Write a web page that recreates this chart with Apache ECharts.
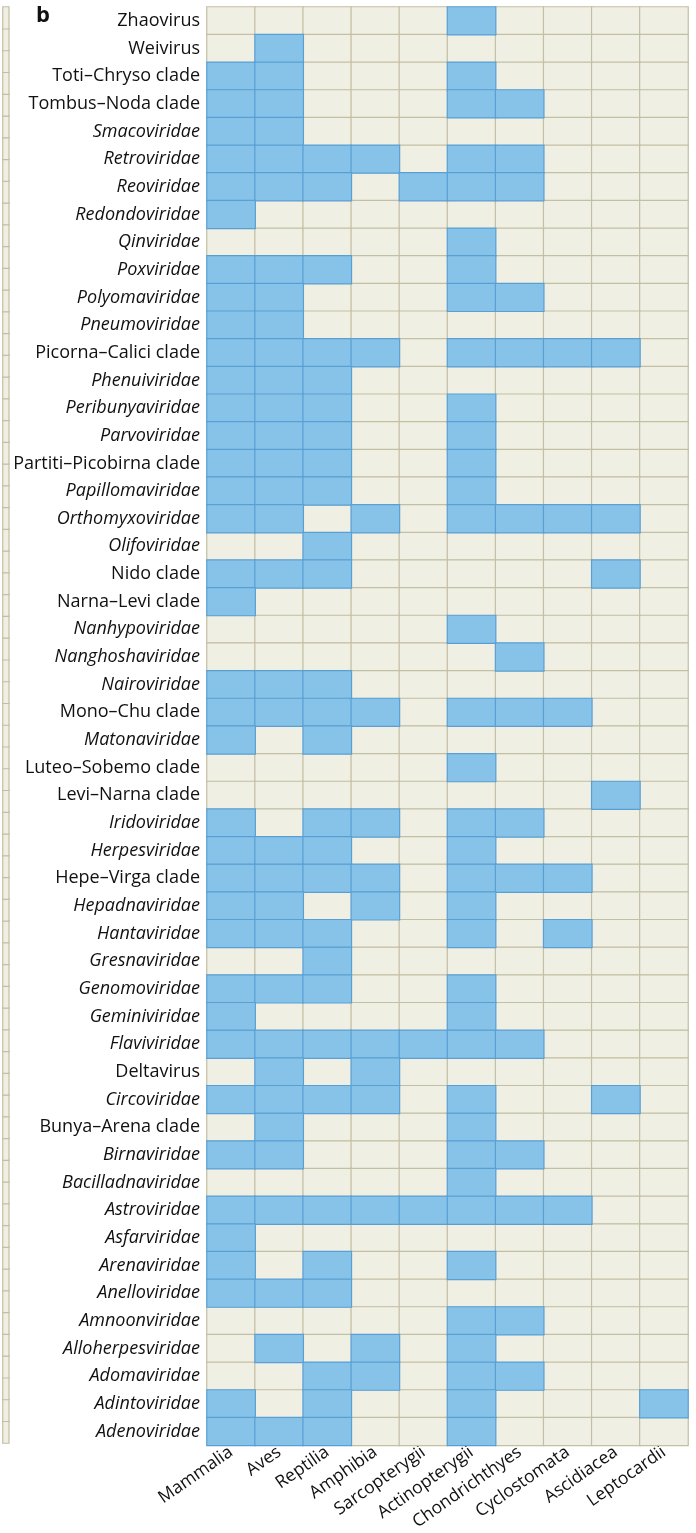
<!DOCTYPE html>
<html>
<head>
<meta charset="utf-8">
<script src="https://cdn.jsdelivr.net/npm/echarts@6/dist/echarts.min.js"></script>
<style>
  html, body { margin: 0; padding: 0; background: #fff; }
  #chart { width: 696px; height: 1533px; }
</style>
</head>
<body>
<div id="chart"></div>
<script>
const hosts = ['Mammalia', 'Aves', 'Reptilia', 'Amphibia', 'Sarcopterygii', 'Actinopterygii',
  'Chondrichthyes', 'Cyclostomata', 'Ascidiacea', 'Leptocardii']

const viruses = ['Zhaovirus', 'Weivirus', 'Toti–Chryso clade', 'Tombus–Noda clade', 'Smacoviridae',
  'Retroviridae', 'Reoviridae', 'Redondoviridae', 'Qinviridae', 'Poxviridae', 'Polyomaviridae',
  'Pneumoviridae', 'Picorna–Calici clade', 'Phenuiviridae', 'Peribunyaviridae', 'Parvoviridae',
  'Partiti–Picobirna clade', 'Papillomaviridae', 'Orthomyxoviridae', 'Olifoviridae', 'Nido clade',
  'Narna–Levi clade', 'Nanhypoviridae', 'Nanghoshaviridae', 'Nairoviridae', 'Mono–Chu clade',
  'Matonaviridae', 'Luteo–Sobemo clade', 'Levi–Narna clade', 'Iridoviridae', 'Herpesviridae',
  'Hepe–Virga clade', 'Hepadnaviridae', 'Hantaviridae', 'Gresnaviridae', 'Genomoviridae',
  'Geminiviridae', 'Flaviviridae', 'Deltavirus', 'Circoviridae', 'Bunya–Arena clade',
  'Birnaviridae', 'Bacilladnaviridae', 'Astroviridae', 'Asfarviridae', 'Arenaviridae',
  'Anelloviridae', 'Amnoonviridae', 'Alloherpesviridae', 'Adomaviridae', 'Adintoviridae',
  'Adenoviridae']

// presence (1) / absence (0), one row per virus, columns in the order of hosts
const presence = [
  [0, 0, 0, 0, 0, 1, 0, 0, 0, 0],
  [0, 1, 0, 0, 0, 0, 0, 0, 0, 0],
  [1, 1, 0, 0, 0, 1, 0, 0, 0, 0],
  [1, 1, 0, 0, 0, 1, 1, 0, 0, 0],
  [1, 1, 0, 0, 0, 0, 0, 0, 0, 0],
  [1, 1, 1, 1, 0, 1, 1, 0, 0, 0],
  [1, 1, 1, 0, 1, 1, 1, 0, 0, 0],
  [1, 0, 0, 0, 0, 0, 0, 0, 0, 0],
  [0, 0, 0, 0, 0, 1, 0, 0, 0, 0],
  [1, 1, 1, 0, 0, 1, 0, 0, 0, 0],
  [1, 1, 0, 0, 0, 1, 1, 0, 0, 0],
  [1, 1, 0, 0, 0, 0, 0, 0, 0, 0],
  [1, 1, 1, 1, 0, 1, 1, 1, 1, 0],
  [1, 1, 1, 0, 0, 0, 0, 0, 0, 0],
  [1, 1, 1, 0, 0, 1, 0, 0, 0, 0],
  [1, 1, 1, 0, 0, 1, 0, 0, 0, 0],
  [1, 1, 1, 0, 0, 1, 0, 0, 0, 0],
  [1, 1, 1, 0, 0, 1, 0, 0, 0, 0],
  [1, 1, 0, 1, 0, 1, 1, 1, 1, 0],
  [0, 0, 1, 0, 0, 0, 0, 0, 0, 0],
  [1, 1, 1, 0, 0, 0, 0, 0, 1, 0],
  [1, 0, 0, 0, 0, 0, 0, 0, 0, 0],
  [0, 0, 0, 0, 0, 1, 0, 0, 0, 0],
  [0, 0, 0, 0, 0, 0, 1, 0, 0, 0],
  [1, 1, 1, 0, 0, 0, 0, 0, 0, 0],
  [1, 1, 1, 1, 0, 1, 1, 1, 0, 0],
  [1, 0, 1, 0, 0, 0, 0, 0, 0, 0],
  [0, 0, 0, 0, 0, 1, 0, 0, 0, 0],
  [0, 0, 0, 0, 0, 0, 0, 0, 1, 0],
  [1, 0, 1, 1, 0, 1, 1, 0, 0, 0],
  [1, 1, 1, 0, 0, 1, 0, 0, 0, 0],
  [1, 1, 1, 1, 0, 1, 1, 1, 0, 0],
  [1, 1, 0, 1, 0, 1, 0, 0, 0, 0],
  [1, 1, 1, 0, 0, 1, 0, 1, 0, 0],
  [0, 0, 1, 0, 0, 0, 0, 0, 0, 0],
  [1, 1, 1, 0, 0, 1, 0, 0, 0, 0],
  [1, 0, 0, 0, 0, 1, 0, 0, 0, 0],
  [1, 1, 1, 1, 1, 1, 1, 0, 0, 0],
  [0, 1, 0, 1, 0, 0, 0, 0, 0, 0],
  [1, 1, 1, 1, 0, 1, 0, 0, 1, 0],
  [0, 1, 0, 0, 0, 1, 0, 0, 0, 0],
  [1, 1, 0, 0, 0, 1, 1, 0, 0, 0],
  [0, 0, 0, 0, 0, 1, 0, 0, 0, 0],
  [1, 1, 1, 1, 1, 1, 1, 1, 0, 0],
  [1, 0, 0, 0, 0, 0, 0, 0, 0, 0],
  [1, 0, 1, 0, 0, 1, 0, 0, 0, 0],
  [1, 1, 1, 0, 0, 0, 0, 0, 0, 0],
  [0, 0, 0, 0, 0, 1, 1, 0, 0, 0],
  [0, 1, 0, 1, 0, 1, 0, 0, 0, 0],
  [0, 0, 1, 1, 0, 1, 1, 0, 0, 0],
  [1, 0, 1, 0, 0, 1, 0, 0, 0, 1],
  [1, 1, 1, 0, 0, 1, 0, 0, 0, 0]
]

// cut-off edge of the neighbouring panel a (empty cells only)
const panelARows = ['', '', '', '', '', '', '', '', '', '', '', '', '', '', '', '', '', '', '', '', '', '',
  '', '', '', '', '', '', '', '', '', '', '', '', '', '', '', '', '', '', '', '', '', '',
  '', '', '', '', '', '', '', '', '', '', '', '', '', '', '', '', '', '', '', '', '', '']

const emptyCells = []
const filledCells = []
presence.forEach((row, y) => {
  row.forEach((v, x) => {
    if (v) filledCells.push([x, y, v])
    else emptyCells.push([x, y, v])
  })
})

const chart = echarts.init(document.getElementById('chart'))
const font = '"Open Sans", "Noto Sans", sans-serif'

chart.setOption({
  animation: false,
  title: {
    text: 'b',
    left: 31,
    top: 0,
    textStyle: { fontFamily: font, fontWeight: 'bold', fontSize: 22, color: '#111' }
  },
  grid: [
    { left: 207, top: 7, width: 481, height: 1439 },
    { left: -20, top: 7, width: 23, height: 1436 }
  ],
  xAxis: [
    {
      type: 'category',
      data: hosts,
      gridIndex: 0,
      axisLine: { show: false },
      axisTick: { show: false },
      splitArea: { show: false },
      axisLabel: {
        interval: 0,
        rotate: 35,
        margin: 5,
        fontFamily: font,
        fontSize: 17.5,
        color: '#111'
      }
    },
    {
      type: 'category',
      data: [''],
      gridIndex: 1,
      show: false
    }
  ],
  yAxis: [
    {
      type: 'category',
      data: viruses,
      inverse: true,
      gridIndex: 0,
      axisLine: { show: false },
      axisTick: { show: false },
      axisLabel: {
        interval: 0,
        margin: 7,
        fontFamily: font,
        fontSize: 18,
        color: '#111',
        formatter: name => /viridae$/.test(name) ? `{i|${name}}` : name,
        rich: {
          i: { fontFamily: font, fontSize: 18, fontStyle: 'italic', color: '#111' }
        }
      }
    },
    {
      type: 'category',
      data: panelARows,
      gridIndex: 1,
      show: false
    }
  ],
  series: [
    {
      type: 'heatmap',
      xAxisIndex: 0,
      yAxisIndex: 0,
      data: emptyCells,
      itemStyle: { color: '#f0efe4', borderColor: '#c3bfa2', borderWidth: 1.2 },
      emphasis: { disabled: true }
    },
    {
      type: 'heatmap',
      xAxisIndex: 0,
      yAxisIndex: 0,
      data: filledCells,
      itemStyle: { color: '#87c3e8', borderColor: '#5a9fd4', borderWidth: 1.2 },
      emphasis: { disabled: true }
    },
    {
      type: 'heatmap',
      xAxisIndex: 1,
      yAxisIndex: 1,
      data: panelARows.map((_, i) => [0, i, 0]),
      itemStyle: { color: '#f0efe4', borderColor: '#c3bfa2', borderWidth: 1.2 },
      emphasis: { disabled: true }
    }
  ]
})
</script>
</body>
</html>
